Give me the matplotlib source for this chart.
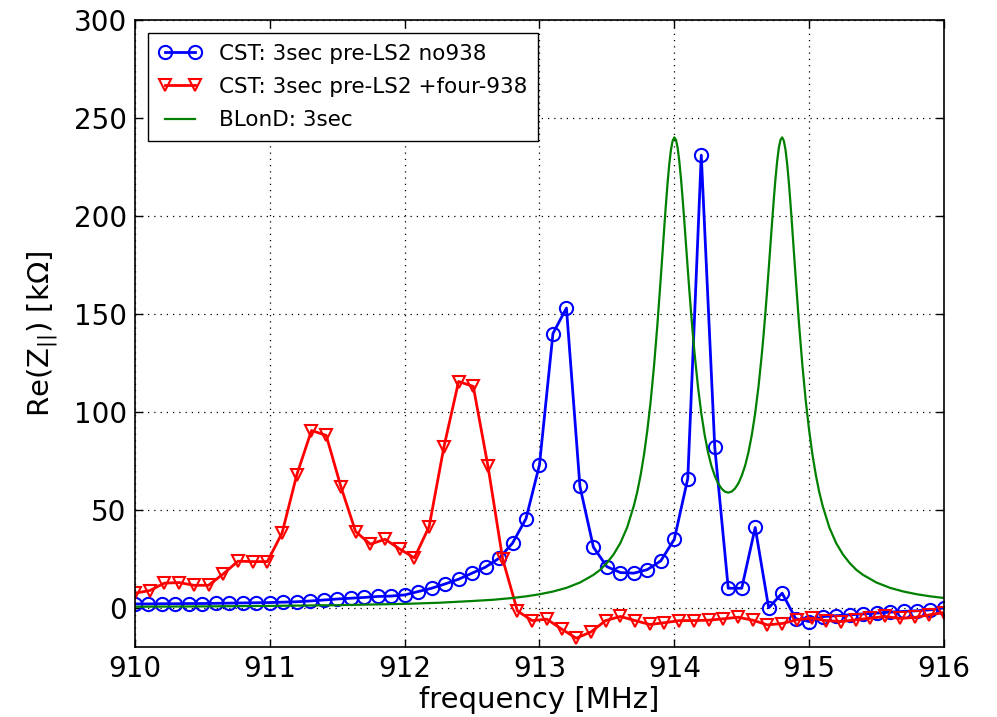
import numpy as np
import matplotlib
matplotlib.use("Agg")
import matplotlib.pyplot as plt

# ---- data ----
f_blue = np.round(np.arange(910.0, 916.0001, 0.1), 3)
z_blue = [2.0, 2.0, 2.1, 2.1, 2.2, 2.2, 2.3, 2.4, 2.5, 2.6,
          2.7, 2.9, 3.1, 3.5, 4.0, 4.5, 4.9, 5.3, 5.8, 6.0,
          6.6, 8.3, 10.0, 12.2, 14.6, 17.7, 20.8, 25.3, 33.0, 45.5,
          73.0, 140.0, 153.0, 62.0, 31.0, 21.0, 18.0, 17.7, 19.5, 24.0,
          35.0, 66.0, 231.0, 82.0, 10.0, 10.0, 41.0, 0.0, 7.5, -5.5,
          -7.0, -4.5, -4.0, -3.6, -3.1, -2.7, -2.2, -1.8, -1.5, -1.0,
          0.0]

f_red = np.linspace(910.0, 916.0, 56)
z_red = [7.5, 8.8, 12.6, 12.9, 11.5, 11.5, 17.3, 23.8, 23.6, 23.6,
         38.2, 67.9, 90.5, 88.0, 61.8, 38.9, 32.5, 35.0, 30.0, 25.5,
         41.5, 82.0, 115.5, 113.0, 72.2, 24.8, -1.6, -6.5, -5.8, -10.8,
         -15.5, -12.3, -6.5, -4.4, -6.5, -8.5, -7.6, -6.5, -6.5, -6.3,
         -5.6, -4.8, -6.3, -8.7, -8.0, -6.1, -5.3, -6.5, -7.0, -6.1,
         -5.3, -4.4, -5.4, -4.9, -3.6, -2.4]

f_green = [910.0, 910.5, 911.0, 911.5, 912.0, 912.25, 912.5, 912.65, 912.8, 912.9,
           913.0, 913.1, 913.2, 913.3, 913.4, 913.45, 913.5, 913.55, 913.6, 913.65,
           913.7, 913.725, 913.75, 913.775, 913.8, 913.825, 913.85, 913.875, 913.9, 913.9125,
           913.925, 913.9375, 913.95, 913.9625, 913.975, 913.9875, 914.0, 914.0125, 914.025, 914.0375,
           914.05, 914.0625, 914.075, 914.0875, 914.1, 914.1125, 914.125, 914.1375, 914.15, 914.175,
           914.2, 914.225, 914.25, 914.275, 914.3, 914.325, 914.35, 914.375, 914.4, 914.425,
           914.45, 914.475, 914.5, 914.525, 914.55, 914.575, 914.6, 914.625, 914.65, 914.6625,
           914.675, 914.6875, 914.7, 914.7125, 914.725, 914.7375, 914.75, 914.7625, 914.775, 914.7875,
           914.8, 914.8125, 914.825, 914.8375, 914.85, 914.8625, 914.875, 914.8875, 914.9, 914.925,
           914.95, 914.975, 915.0, 915.025, 915.05, 915.075, 915.1, 915.15, 915.2, 915.25,
           915.3, 915.35, 915.4, 915.5, 915.6, 915.7, 915.8, 915.9, 916.0]
z_green = [0.57, 0.73, 0.98, 1.36, 2.02, 2.58, 3.48, 4.08, 5.02, 5.85,
           6.92, 8.32, 10.2, 12.9, 16.8, 19.4, 22.9, 27.3, 33.1, 41.0,
           52.1, 59.1, 67.7, 78.0, 90.6, 105.6, 123.8, 144.9, 168.8, 181.1,
           193.6, 205.6, 216.7, 226.3, 233.7, 238.3, 240.1, 238.8, 234.7, 227.7,
           218.7, 208.1, 196.6, 184.7, 172.8, 161.1, 150.1, 139.6, 130.1, 113.2,
           99.4, 88.3, 79.4, 72.5, 67.4, 63.5, 60.9, 59.3, 58.8, 59.3,
           60.9, 63.5, 67.4, 72.5, 79.4, 88.3, 99.4, 113.2, 130.1, 139.6,
           150.1, 161.1, 172.8, 184.7, 196.6, 208.1, 218.7, 227.7, 234.7, 238.8,
           240.1, 238.3, 233.7, 226.3, 216.7, 205.6, 193.6, 181.1, 168.8, 144.9,
           123.8, 105.6, 90.6, 78.0, 67.7, 59.1, 52.1, 41.0, 33.1, 27.3,
           22.9, 19.4, 16.8, 12.9, 10.2, 8.32, 6.92, 5.85, 5.02]

labels = ["CST: 3sec pre-LS2 no938", "CST: 3sec pre-LS2 +four-938", "BLonD: 3sec"]
x_ticks = [910, 911, 912, 913, 914, 915, 916]
y_ticks = [0, 50, 100, 150, 200, 250, 300]

# ---- plot ----
plt.rcParams['font.family'] = ['DejaVu Sans']
plt.rcParams['mathtext.fontset'] = 'dejavusans'

fig = plt.figure(figsize=(9.97, 7.17), dpi=100)
ax = fig.add_axes([0.1354, 0.0976, 0.8114, 0.8745])

ax.plot(f_blue, z_blue, color='b', lw=2, marker='o', ms=9.5, mfc='none',
        mec='b', mew=1.5, label=labels[0])
ax.plot(f_red, z_red, color='r', lw=2, marker='v', ms=9, mfc='none',
        mec='r', mew=1.5, label=labels[1])
ax.plot(f_green, z_green, color='g', lw=1.6, label=labels[2])

ax.set_xlim(910, 916)
ax.set_ylim(-20, 300)
ax.set_xticks(x_ticks)
ax.set_yticks(y_ticks)
ax.grid(True, color='k', linestyle=(0, (1, 4)), linewidth=0.9)
ax.tick_params(direction='in', top=True, right=True, length=6, width=1,
               labelsize=20, pad=6)
for s in ax.spines.values():
    s.set_linewidth(1.2)

ax.set_xlabel('frequency [MHz]', fontsize=21, labelpad=2)
ax.set_ylabel(r'Re(Z$_{||}$) [k$\Omega$]', fontsize=21, labelpad=10)

leg = ax.legend(loc='upper left', numpoints=2, fontsize=15.5, fancybox=False,
                framealpha=1, edgecolor='k', handlelength=2.0,
                borderaxespad=0.6, labelspacing=0.62, handletextpad=0.8,
                borderpad=0.5)
leg.get_frame().set_linewidth(1.0)

fig.savefig('out.png', dpi=100, facecolor='white')
